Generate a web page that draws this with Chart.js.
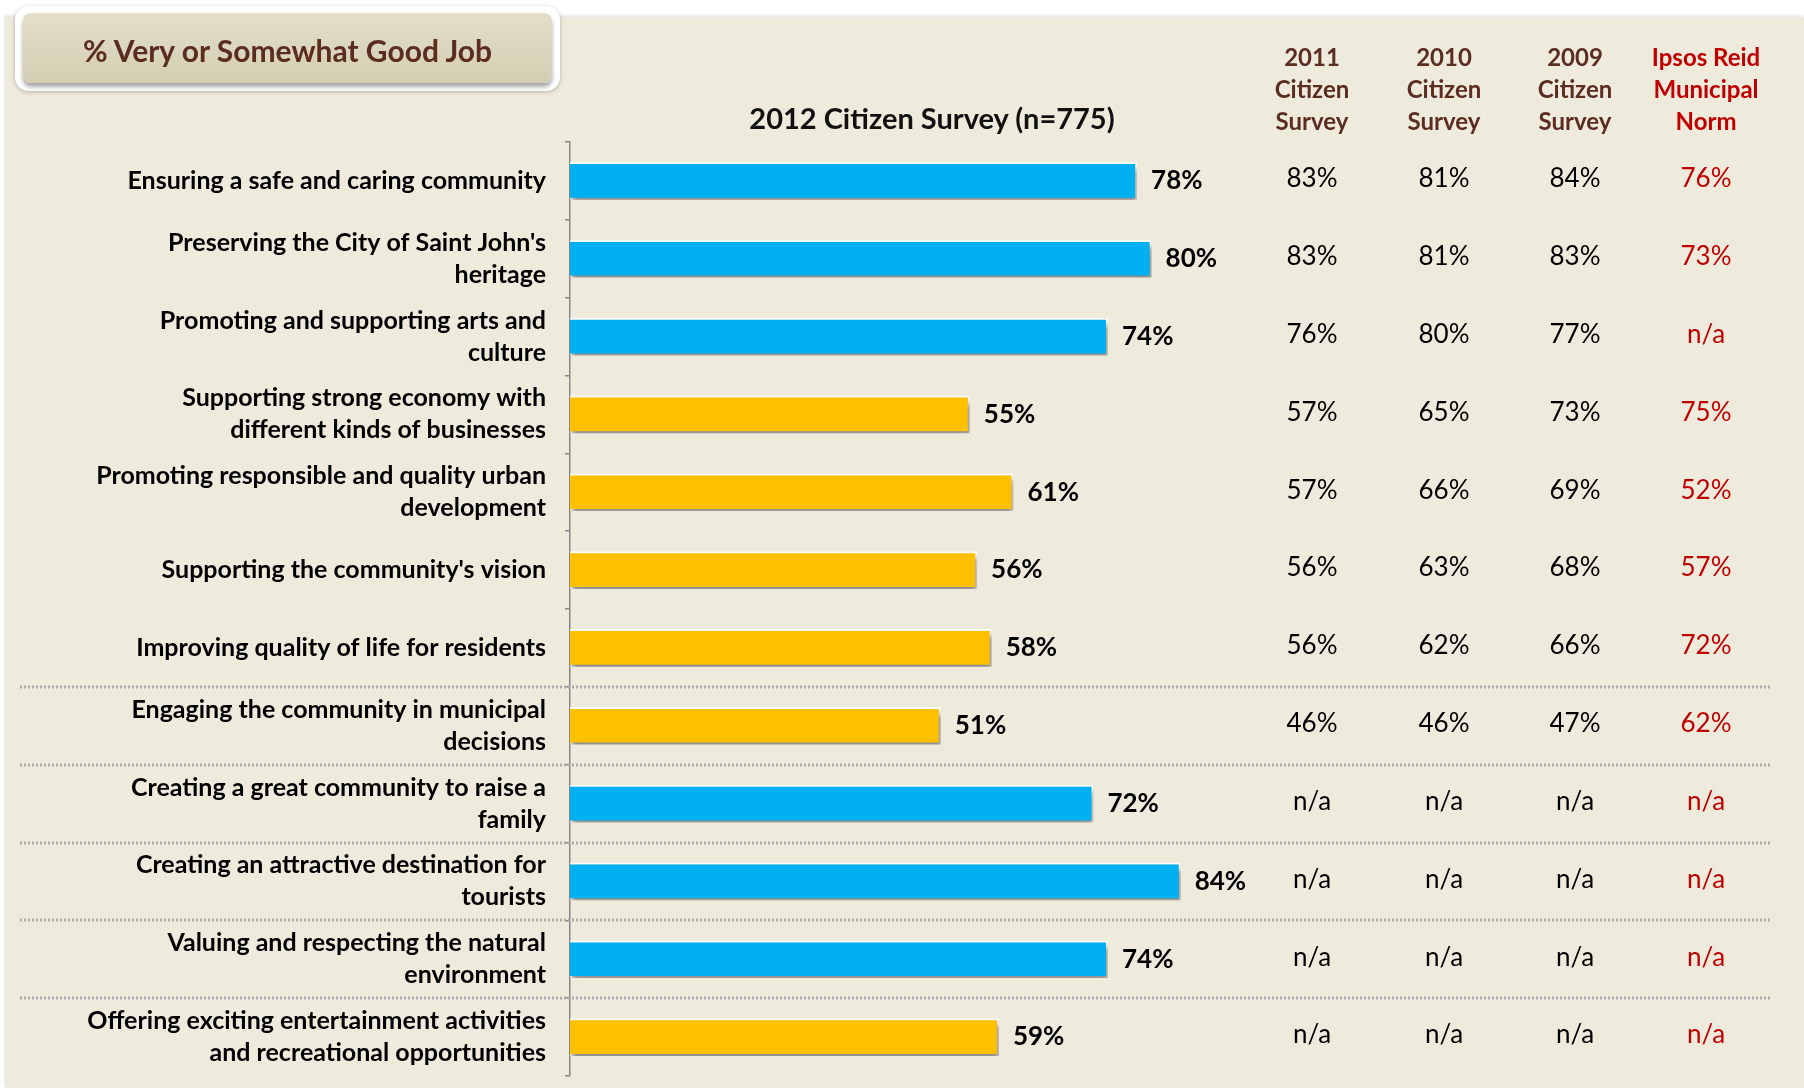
<!DOCTYPE html>
<html>
<head>
<meta charset="utf-8">
<script src="https://cdn.jsdelivr.net/npm/chart.js@4"></script>
<style>
  body { margin: 0; background: #fff; font-family: Lato, "Open Sans", sans-serif; }
  #wrap { position: relative; width: 1804px; height: 1088px; overflow: hidden; }
  #panel { position: absolute; left: 6px; top: 17px; right: 0; bottom: 0; background: #EEEBDD;
           box-shadow: -1px -1px 3px rgba(0,0,0,0.15); }
  #chartBox { position: absolute; left: 0; top: 0; width: 1804px; height: 1088px; }
  #titleBox { position: absolute; left: 15px; top: 6px; width: 545px; height: 85px; background: #fff;
              border-radius: 14px; box-shadow: 0 1px 4px rgba(0,0,0,0.25); }
  #titleBox div { position: absolute; left: 8px; top: 7px; right: 8px; bottom: 8px; border-radius: 8px;
                  background: linear-gradient(#E3DFC9, #D3CEB2); box-shadow: 0 4px 4px rgba(0,0,0,0.35);
                  color: #5B2C20; font-weight: bold; font-size: 30px; text-align: center; line-height: 74px; }
  .hdr { position: absolute; text-align: center; font-weight: bold; font-size: 24px; line-height: 32px;
         color: #5B2C20; width: 180px; margin-left: -90px; top: 41px; }
  .norm { color: #C00000; }
  #sub { position: absolute; left: 932px; top: 100px; transform: translateX(-50%); font-weight: bold;
         font-size: 29px; color: #111; white-space: nowrap; }
</style>
</head>
<body>
<div id="wrap">
  <div id="panel"></div>
  <div id="chartBox"><canvas id="barChart"></canvas></div>
  <div id="titleBox"><div>% Very or Somewhat Good Job</div></div>
  <div id="sub">2012 Citizen Survey (n=775)</div>
  <div class="hdr" style="left:1312px">2011<br>Citizen<br>Survey</div>
  <div class="hdr" style="left:1444px">2010<br>Citizen<br>Survey</div>
  <div class="hdr" style="left:1575px">2009<br>Citizen<br>Survey</div>
  <div class="hdr norm" style="left:1706px">Ipsos Reid<br>Municipal<br>Norm</div>
</div>
<script>
var categories = [
    ["Ensuring a safe and caring community"],
    ["Preserving the City of Saint John's", "heritage"],
    ["Promoting and supporting arts and", "culture"],
    ["Supporting strong economy with", "different kinds of businesses"],
    ["Promoting responsible and quality urban", "development"],
    ["Supporting the community's vision"],
    ["Improving quality of life for residents"],
    ["Engaging the community in municipal", "decisions"],
    ["Creating a great community to raise a", "family"],
    ["Creating an attractive destination for", "tourists"],
    ["Valuing and respecting the natural", "environment"],
    ["Offering exciting entertainment activities", "and recreational opportunities"]
];
var survey2012 = [78, 80, 74, 55, 61, 56, 58, 51, 72, 84, 74, 59];
var survey2011 = ["83%", "83%", "76%", "57%", "57%", "56%", "56%", "46%", "n/a", "n/a", "n/a", "n/a"];
var survey2010 = ["81%", "81%", "80%", "65%", "66%", "63%", "62%", "46%", "n/a", "n/a", "n/a", "n/a"];
var survey2009 = ["84%", "83%", "77%", "73%", "69%", "68%", "66%", "47%", "n/a", "n/a", "n/a", "n/a"];
var municipalNorm = ["76%", "73%", "n/a", "75%", "52%", "57%", "72%", "62%", "n/a", "n/a", "n/a", "n/a"];
// rows after which a dotted separator runs across the whole panel
var separatorAfter = [6, 7, 8, 9, 10];

var FONT = "Lato, 'Open Sans', sans-serif";
var tableCols = [
    { x: 1312, values: survey2011, color: '#000' },
    { x: 1444, values: survey2010, color: '#000' },
    { x: 1575, values: survey2009, color: '#000' },
    { x: 1706, values: municipalNorm, color: '#C00000' }
];

var separators = {
    id: 'separators',
    beforeDatasetsDraw: function (chart) {
        var ctx = chart.ctx, y = chart.scales.y;
        ctx.save();
        ctx.strokeStyle = '#ABABAB';
        ctx.lineWidth = 3;
        ctx.setLineDash([2, 2]);
        separatorAfter.forEach(function (i) {
            var py = Math.round((y.getPixelForValue(i) + y.getPixelForValue(i + 1)) / 2);
            ctx.beginPath();
            ctx.moveTo(20, py);
            ctx.lineTo(1772, py);
            ctx.stroke();
        });
        ctx.restore();
    }
};

var barShadow = {
    id: 'barShadow',
    beforeDatasetsDraw: function (chart) {
        var ctx = chart.ctx;
        ctx.save();
        ctx.shadowColor = 'rgba(0,0,0,0.45)';
        ctx.shadowBlur = 5;
        ctx.shadowOffsetX = 2;
        ctx.shadowOffsetY = 5;
    },
    afterDatasetsDraw: function (chart) {
        chart.ctx.restore();
    }
};

var labelsAndTable = {
    id: 'labelsAndTable',
    afterDatasetsDraw: function (chart) {
        var ctx = chart.ctx, y = chart.scales.y;
        ctx.save();
        ctx.textBaseline = 'middle';

        // category labels, right aligned against the axis
        ctx.textAlign = 'right';
        ctx.fillStyle = '#000';
        ctx.font = 'bold 25px ' + FONT;
        categories.forEach(function (lines, i) {
            var cy = y.getPixelForValue(i);
            var top = cy - (lines.length - 1) * 32 / 2;
            lines.forEach(function (line, k) {
                ctx.fillText(line, 546, top + k * 32);
            });
        });

        // value labels at the bar ends
        ctx.textAlign = 'left';
        ctx.font = 'bold 26px ' + FONT;
        chart.getDatasetMeta(0).data.forEach(function (bar, i) {
            ctx.fillText(survey2012[i] + '%', bar.x + 14, bar.y);
        });

        // earlier surveys and the norm
        ctx.textAlign = 'center';
        ctx.font = '26px ' + FONT;
        tableCols.forEach(function (col) {
            ctx.fillStyle = col.color;
            col.values.forEach(function (v, i) {
                ctx.fillText(v, col.x, y.getPixelForValue(i) - 2);
            });
        });
        ctx.restore();
    }
};

var ctx = document.getElementById('barChart').getContext('2d');
var barChart = new Chart(ctx, {
    type: 'bar',
    data: {
        labels: categories,
        datasets: [{
            data: survey2012,
            backgroundColor: survey2012.map(function (v) { return v >= 70 ? '#00B0F0' : '#FFC000'; }),
            borderColor: 'rgba(255,255,255,0.85)',
            borderWidth: 2,
            barPercentage: 1,
            categoryPercentage: 0.485
        }]
    },
    plugins: [separators, barShadow, labelsAndTable],
    options: {
        indexAxis: 'y',
        responsive: true,
        maintainAspectRatio: false,
        animation: false,
        layout: { padding: { left: 0, right: 507, top: 142, bottom: 12 } },
        plugins: { legend: { display: false }, tooltip: { enabled: false } },
        scales: {
            x: { display: false, min: 0, max: 100 },
            y: {
                afterFit: function (scale) { scale.width = 570; },
                grid: { drawOnChartArea: false, drawTicks: true, tickLength: 5, color: '#888', lineWidth: 1.5 },
                border: { display: true, color: '#888', width: 1.5 },
                ticks: { display: false }
            }
        }
    }
});
</script>
</body>
</html>
